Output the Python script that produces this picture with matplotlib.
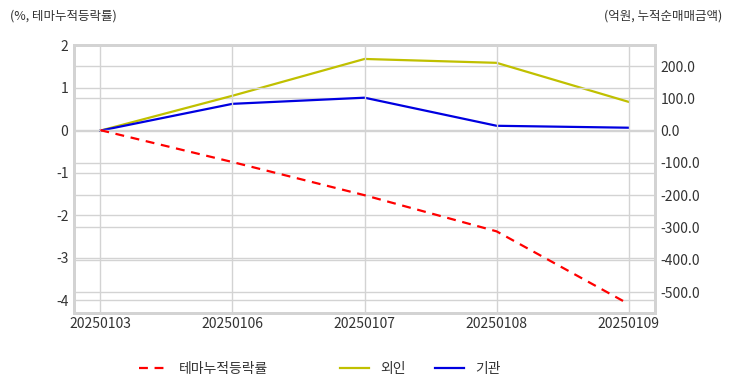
import matplotlib.pyplot as plt
from matplotlib.lines import Line2D

plt.rcParams["font.family"] = ["Noto Sans CJK KR", "DejaVu Sans"]

dates = ["20250103", "20250106", "20250107", "20250108", "20250109"]
theme_rate = [0.0, -0.75, -1.53, -2.38, -4.09]   # %, left axis
foreign = [0.0, 108.0, 222.0, 210.0, 89.0]       # 억원, right axis
institution = [0.0, 83.0, 102.0, 15.0, 9.0]      # 억원, right axis
series_names = ["테마누적등락률", "외인", "기관"]

grid_c = "#d3d3d3"
text_c = "#333333"
red, olive, blue = "#ff0000", "#c0c000", "#0000e0"

fig = plt.figure(figsize=(7.32, 3.92), dpi=100)
ax = fig.add_axes([0.101, 0.2015, 0.794, 0.6835])
ax2 = ax.twinx()

x = list(range(len(dates)))
ax.plot(x, theme_rate, color=red, linestyle="--", linewidth=1.6, dashes=(4, 3))
ax2.plot(x, foreign, color=olive, linewidth=1.6)
ax2.plot(x, institution, color=blue, linewidth=1.6)

ax.set_xlim(-0.2, 4.2)
ax.set_ylim(-4.3, 2.0)
ax.set_yticks([2, 1, 0, -1, -2, -3, -4])
ax.set_yticklabels(["2", "1", "0", "-1", "-2", "-3", "-4"])
right_ticks = [200, 100, 0, -100, -200, -300, -400, -500]
ax2.set_ylim(-565, 265)
ax2.set_yticks(right_ticks)
ax2.set_yticklabels([f"{v:.1f}" for v in right_ticks])
ax.set_xticks(x)
ax.set_xticklabels(dates)

for a in (ax, ax2):
    a.tick_params(length=0, labelsize=10, colors=text_c, pad=4)
    for s in a.spines.values():
        s.set_color(grid_c)
        s.set_linewidth(2)
    a.grid(True, axis="y", color=grid_c, linewidth=1)
    a.set_axisbelow(True)
ax.grid(True, axis="x", color=grid_c, linewidth=1)
ax.set_zorder(ax2.get_zorder() + 1)
ax.patch.set_visible(False)
ax.tick_params(axis="x", pad=3)

fig.text(10 / 732, 1 - 16 / 392, "(%, 테마누적등락률)", fontsize=9, color=text_c, va="center", ha="left")
fig.text(722 / 732, 1 - 16 / 392, "(억원, 누적순매매금액)", fontsize=9, color=text_c, va="center", ha="right")

# legend entries placed one by one, as the spacing in the original is uneven
handles = [
    Line2D([], [], color=red, linestyle="--", linewidth=1.6, dashes=(4, 3)),
    Line2D([], [], color=olive, linewidth=1.6),
    Line2D([], [], color=blue, linewidth=1.6),
]
for h, name, x0 in zip(handles, series_names, [139, 340, 435]):
    leg = fig.legend([h], [name], loc="center left", bbox_to_anchor=(x0 / 732, 1 - 369 / 392),
                     frameon=False, fontsize=10, handlelength=2.1, handletextpad=0.8,
                     borderpad=0, borderaxespad=0, labelcolor=text_c)

fig.savefig("out.png", dpi=100)
